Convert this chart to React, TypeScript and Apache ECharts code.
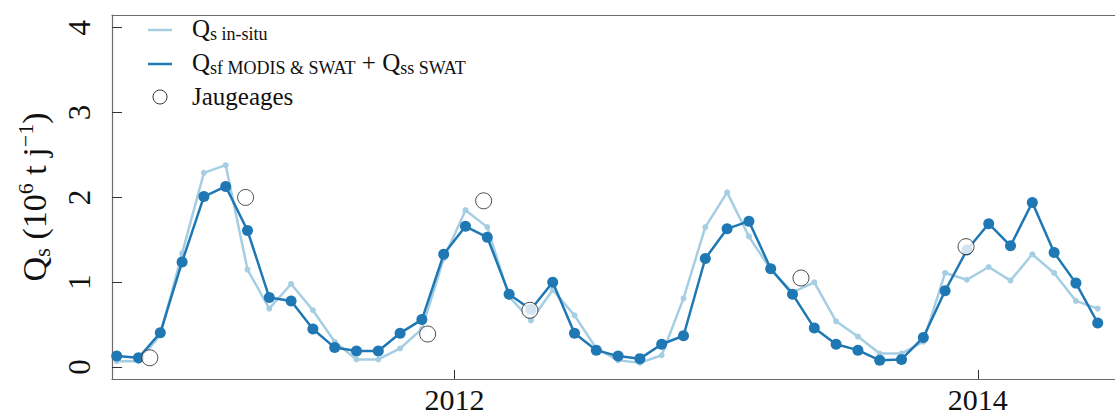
import React, { useEffect, useRef } from "react";
import * as echarts from "echarts";

// Monthly time steps (mid-month)
const months = [
  "2010-09", "2010-10", "2010-11", "2010-12",
  "2011-01", "2011-02", "2011-03", "2011-04", "2011-05", "2011-06",
  "2011-07", "2011-08", "2011-09", "2011-10", "2011-11", "2011-12",
  "2012-01", "2012-02", "2012-03", "2012-04", "2012-05", "2012-06",
  "2012-07", "2012-08", "2012-09", "2012-10", "2012-11", "2012-12",
  "2013-01", "2013-02", "2013-03", "2013-04", "2013-05", "2013-06",
  "2013-07", "2013-08", "2013-09", "2013-10", "2013-11", "2013-12",
  "2014-01", "2014-02", "2014-03", "2014-04", "2014-05", "2014-06",
];

// Qs in-situ (10^6 t/j)
const qsInSitu = [
  0.07, 0.07, 0.38, 1.34,
  2.29, 2.38, 1.15, 0.69, 0.98, 0.67, 0.30, 0.09, 0.09, 0.22, 0.45, 1.28,
  1.85, 1.65, 0.83, 0.55, 0.91, 0.61, 0.22, 0.08, 0.05, 0.14, 0.81, 1.65,
  2.06, 1.54, 1.15, 0.88, 1.00, 0.54, 0.36, 0.16, 0.16, 0.30, 1.11, 1.03,
  1.18, 1.02, 1.33, 1.11, 0.78, 0.69,
];

// Qsf MODIS & SWAT + Qss SWAT
const qsModisSwat = [
  0.13, 0.11, 0.405, 1.24,
  2.01, 2.13, 1.61, 0.82, 0.78, 0.45, 0.23, 0.19, 0.19, 0.40, 0.56, 1.33,
  1.66, 1.53, 0.86, 0.68, 1.00, 0.40, 0.20, 0.13, 0.10, 0.27, 0.37, 1.28,
  1.63, 1.72, 1.16, 0.86, 0.46, 0.27, 0.20, 0.08, 0.09, 0.35, 0.90, 1.38,
  1.69, 1.43, 1.94, 1.35, 0.99, 0.52,
];

// Jaugeages (gaugings): decimal-year dates and values
const jaugeageDates = [2010.835, 2011.201, 2011.897, 2012.111, 2012.288, 2013.324, 2013.955];
const jaugeageValues = [0.11, 2.0, 0.39, 1.96, 0.67, 1.05, 1.42];

const yTickValues = [0, 1, 2, 3, 4];
const xTickYears = [2012, 2014];

const LIGHT = "#a6cee3";
const DARK = "#1f78b4";
const FONT = "Liberation Serif";

function monthToYear(m: string): number {
  const [y, mo] = m.split("-").map(Number);
  return y + (mo - 0.5) / 12;
}

export default function App() {
  const ref = useRef<HTMLDivElement>(null);

  useEffect(() => {
    document.body.style.margin = "0";
    if (!ref.current) return;
    const chart = echarts.init(ref.current, undefined, { renderer: "svg" });

    const inSituData = months.map((m, i) => [monthToYear(m), qsInSitu[i]]);
    const modisData = months.map((m, i) => [monthToYear(m), qsModisSwat[i]]);
    const jaugData = jaugeageDates.map((d, i) => [d, jaugeageValues[i]]);

    const legendMain = 25;
    const legendSub = 18;
    const legendRich = {
      q: { fontFamily: FONT, fontSize: legendMain, fill: "#111", lineHeight: 30 },
      t: { fontFamily: FONT, fontSize: legendMain, fill: "#111", lineHeight: 30 },
      s: { fontFamily: FONT, fontSize: legendSub, fill: "#111", lineHeight: 20, verticalAlign: "bottom" },
    };

    const axisColor = "#6b6b6b";

    chart.setOption({
      animation: false,
      grid: { left: 112, top: 15, right: 0, bottom: 37, containLabel: false },
      xAxis: [
        {
          type: "value",
          min: 2010.6904,
          max: 2014.5244,
          splitLine: { show: false },
          axisLine: { show: true, onZero: false, lineStyle: { color: axisColor, width: 1.2 } },
          axisTick: { show: true, inside: true, length: 9, customValues: xTickYears, lineStyle: { color: "#333" } },
          axisLabel: {
            show: true,
            customValues: xTickYears,
            formatter: (v: number) => String(Math.round(v)),
            fontFamily: FONT,
            fontSize: 30,
            lineHeight: 30,
            color: "#111",
            margin: 5,
          },
        },
        {
          type: "value",
          position: "top",
          min: 2010.6904,
          max: 2014.5244,
          splitLine: { show: false },
          axisLine: { show: true, onZero: false, lineStyle: { color: axisColor, width: 1.2 } },
          axisTick: { show: false },
          axisLabel: { show: false },
        },
      ],
      yAxis: {
        type: "value",
        min: -0.14,
        max: 4.15,
        splitLine: { show: false },
        axisLine: { show: true, onZero: false, lineStyle: { color: axisColor, width: 1.2 } },
        axisTick: { show: true, inside: true, length: 10, customValues: yTickValues, lineStyle: { color: "#333" } },
        axisLabel: {
          show: true,
          customValues: yTickValues,
          rotate: 90,
          fontFamily: FONT,
          fontSize: 31,
          color: "#111",
          margin: 17,
        },
        name: "{q|Q}{s|s}{t| (10}{p|6}{t| t j}{p|−1}{t|)}",
        nameLocation: "middle",
        nameRotate: 90,
        nameGap: 58,
        nameTextStyle: {
          rich: {
            q: { fontFamily: FONT, fontSize: 34, color: "#111", lineHeight: 40 },
            t: { fontFamily: FONT, fontSize: 34, color: "#111", lineHeight: 40 },
            s: { fontFamily: FONT, fontSize: 23, color: "#111", lineHeight: 24, verticalAlign: "bottom" },
            p: { fontFamily: FONT, fontSize: 22, color: "#111", lineHeight: 24, verticalAlign: "top" },
          },
        },
      },
      series: [
        {
          name: "Qs in-situ",
          type: "line",
          data: inSituData,
          symbol: "circle",
          symbolSize: 6,
          lineStyle: { color: LIGHT, width: 2.5 },
          itemStyle: { color: LIGHT },
          z: 2,
        },
        {
          name: "Qsf MODIS & SWAT + Qss SWAT",
          type: "line",
          data: modisData,
          symbol: "circle",
          symbolSize: 11,
          lineStyle: { color: DARK, width: 2.5 },
          itemStyle: { color: DARK },
          z: 3,
        },
        {
          name: "Jaugeages",
          type: "scatter",
          data: jaugData,
          symbol: "circle",
          symbolSize: 16,
          itemStyle: { color: "#ffffff", borderColor: "#222", borderWidth: 1 },
          z: 4,
        },
      ],
      graphic: [
        { type: "line", shape: { x1: 148, y1: 30, x2: 172, y2: 30 }, style: { stroke: LIGHT, lineWidth: 2.5 } },
        { type: "line", shape: { x1: 148, y1: 64, x2: 172, y2: 64 }, style: { stroke: DARK, lineWidth: 2.5 } },
        { type: "circle", shape: { cx: 160, cy: 97, r: 7 }, style: { fill: "#fff", stroke: "#333", lineWidth: 1 } },
        {
          type: "text",
          x: 192,
          y: 28,
          style: {
            text: "{q|Q}{s|s in-situ}",
            rich: legendRich,
            fontFamily: FONT,
            fontSize: legendMain,
            fill: "#111",
            verticalAlign: "middle",
            align: "left",
          },
        },
        {
          type: "text",
          x: 192,
          y: 62,
          style: {
            text: "{q|Q}{s|sf MODIS & SWAT}{t| + Q}{s|ss SWAT}",
            rich: legendRich,
            fontFamily: FONT,
            fontSize: legendMain,
            fill: "#111",
            verticalAlign: "middle",
            align: "left",
          },
        },
        {
          type: "text",
          x: 192,
          y: 96,
          style: {
            text: "{t|Jaugeages}",
            rich: legendRich,
            fontFamily: FONT,
            fontSize: legendMain,
            fill: "#111",
            verticalAlign: "middle",
            align: "left",
          },
        },
      ],
    });

    return () => {
      chart.dispose();
    };
  }, []);

  return <div ref={ref} style={{ width: 1115, height: 416 }} />;
}
